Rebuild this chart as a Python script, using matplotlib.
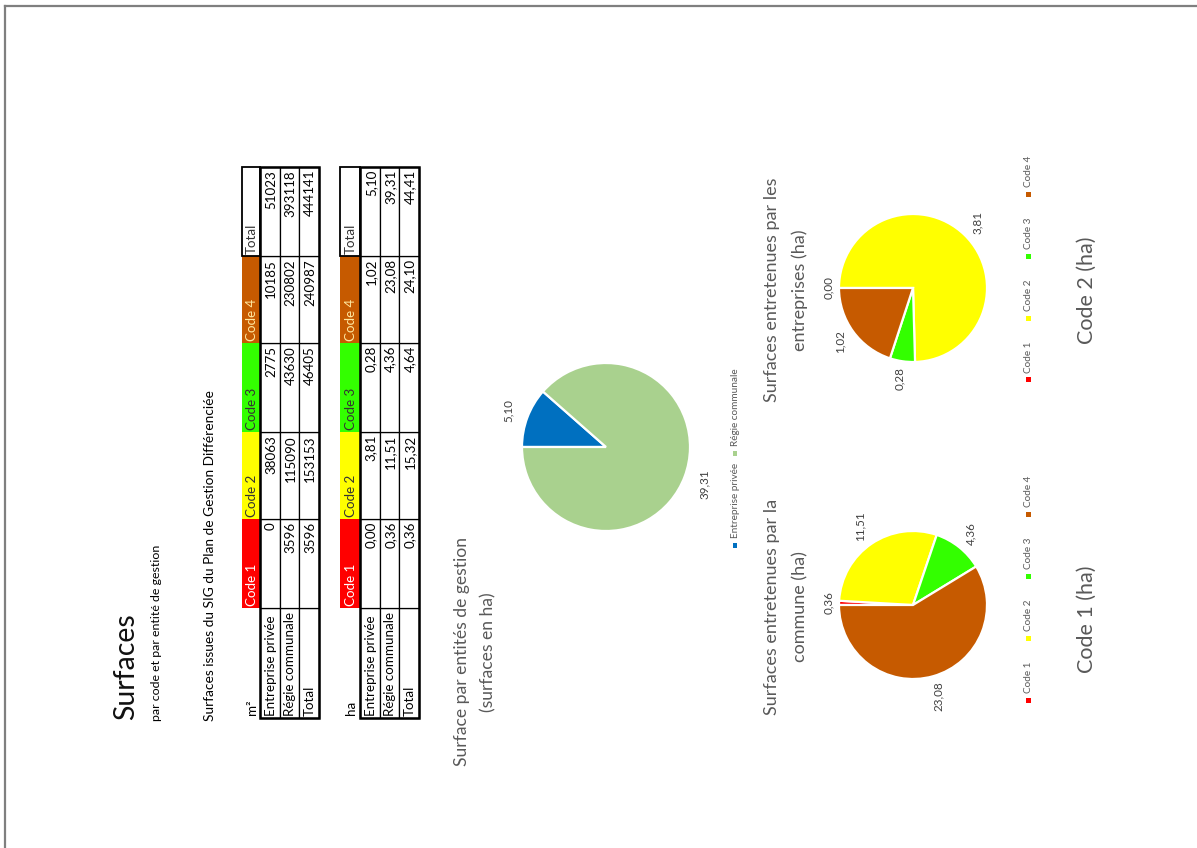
import numpy as np
import matplotlib
matplotlib.use("Agg")
import matplotlib.pyplot as plt
from matplotlib.patches import Rectangle
from matplotlib.lines import Line2D

plt.rcParams['font.family'] = ['Lato', 'DejaVu Sans']

# ---------------- data ----------------
row_labels = ["Entreprise privée", "Régie communale", "Total"]
col_labels = ["Code 1", "Code 2", "Code 3", "Code 4", "Total"]
m2_values = [[0, 38063, 2775, 10185, 51023],
             [3596, 115090, 43630, 230802, 393118],
             [3596, 153153, 46405, 240987, 444141]]
ha_values = [[0.00, 3.81, 0.28, 1.02, 5.10],
             [0.36, 11.51, 4.36, 23.08, 39.31],
             [0.36, 15.32, 4.64, 24.10, 44.41]]

entity_labels = ["Entreprise privée", "Régie communale"]
entity_values = [5.10, 39.31]
code_labels = ["Code 1", "Code 2", "Code 3", "Code 4"]
commune_values = [0.36, 11.51, 4.36, 23.08]
entreprise_values = [0.00, 3.81, 0.28, 1.02]

# ---------------- styles ----------------
code_colors = ["#FF0000", "#FFFF00", "#33FF00", "#C65A00"]
header_text_colors = ["#FFFFFF", "#333333", "#333333", "#FFE8A0", "#333333"]
entity_colors = ["#0070C0", "#A9D18E"]
TITLE_GRAY = "#595959"
LABEL_GRAY = "#404040"
TFS = 9.6  # table font size

W, H = 1197, 848
fig = plt.figure(figsize=(W / 100, H / 100), dpi=100)
fig.patch.set_facecolor("white")


def fx(x):
    return x / W


def fy(y):
    return 1 - y / H


def vtext(x, y, s, ha="left", size=9, color="black", **kw):
    fig.text(fx(x), fy(y), s, rotation=90, rotation_mode="anchor",
             ha=ha, va="center", fontsize=size, color=color, **kw)


# page border (top and left edges)
fig.add_artist(Line2D([fx(5), fx(W)], [fy(6), fy(6)], color="#7F7F7F", lw=1.6))
fig.add_artist(Line2D([fx(5), fx(5)], [fy(6), fy(H)], color="#7F7F7F", lw=1.6))

# ---------------- heading texts ----------------
vtext(126, 720, "Surfaces", size=20.5, color="#111111")
vtext(157, 721, "par code et par entité de gestion", size=8.9)
vtext(210, 721, "Surfaces issues du SIG du Plan de Gestion Différenciée", size=9.9)


# ---------------- tables ----------------
col_edges = [718, 608, 519, 432, 343, 256, 167]   # y pixel edges: label col, codes, total


def draw_table(x_edges, unit, values, fmt):
    # header row
    x0, x1 = x_edges[0], x_edges[1]
    vtext((x0 + x1) / 2 + 1, col_edges[0] - 3, unit, size=TFS)
    for j, lab in enumerate(col_labels):
        ytop, ybot = col_edges[j + 2], col_edges[j + 1]
        if j < 4:
            fig.add_artist(Rectangle((fx(x0), fy(ybot)), (x1 - x0) / W, (ybot - ytop) / H,
                                     facecolor=code_colors[j], edgecolor="none",
                                     transform=fig.transFigure))
        else:
            fig.add_artist(Rectangle((fx(x0), fy(ybot)), (x1 - x0) / W, (ybot - ytop) / H,
                                     facecolor="white", edgecolor="black", lw=1.3,
                                     transform=fig.transFigure))
        vtext((x0 + x1) / 2 + 1, ybot - 2, lab, size=TFS, color=header_text_colors[j])
    # body
    for i, rl in enumerate(row_labels):
        xa, xb = x_edges[i + 1], x_edges[i + 2]
        xc = (xa + xb) / 2 + 1
        for j in range(6):
            ytop, ybot = col_edges[j + 1], col_edges[j]
            fig.add_artist(Rectangle((fx(xa), fy(ybot)), (xb - xa) / W, (ybot - ytop) / H,
                                     facecolor="white", edgecolor="black", lw=0.9,
                                     transform=fig.transFigure))
        vtext(xc, col_edges[0] - 2, rl, size=TFS)
        for j, v in enumerate(values[i]):
            vtext(xc, col_edges[j + 2] + 3, fmt(v), ha="right", size=TFS)
    # outer border of body
    xa, xb = x_edges[1], x_edges[-1]
    fig.add_artist(Rectangle((fx(xa), fy(col_edges[0])), (xb - xa) / W,
                             (col_edges[0] - col_edges[-1]) / H,
                             facecolor="none", edgecolor="black", lw=1.8,
                             transform=fig.transFigure))


draw_table([242, 260, 280, 299, 319], "m²", m2_values, lambda v: f"{v:d}")
draw_table([340, 360, 380, 399, 419], "ha", ha_values, lambda v: f"{v:.2f}".replace(".", ","))


# ---------------- pies ----------------
def draw_pie(cx, cy, r, values, colors, fsize=8.4, extra=4.0):
    ax = fig.add_axes([fx(cx - r), fy(cy + r), 2 * r / W, 2 * r / H])
    wedges, _ = ax.pie(values, colors=colors, startangle=180, counterclock=False,
                       radius=1, wedgeprops=dict(edgecolor="white", linewidth=1.6))
    ax.set_xlim(-1, 1)
    ax.set_ylim(-1, 1)
    ax.set_aspect("equal")
    ax.axis("off")
    for w, v in zip(wedges, values):
        mid = np.deg2rad((w.theta1 + w.theta2) / 2)
        s = f"{v:.2f}".replace(".", ",")
        dx, dy = np.cos(mid), np.sin(mid)
        hx = 6.5 / r
        hy = len(s) * 3.2 / r
        d = 1 + extra / r + abs(dx) * hx + abs(dy) * hy
        ax.text(dx * d, dy * d, s, rotation=90, ha="center", va="center",
                rotation_mode="anchor", fontsize=fsize, color=LABEL_GRAY, clip_on=False)
    return ax


draw_pie(606, 447, 84, entity_values, entity_colors, extra=10.0)
draw_pie(913, 605, 74, commune_values, code_colors)
draw_pie(913, 288, 74, entreprise_values, code_colors)


# ---------------- chart titles ----------------
def vtitle(xs, yc, lines, size):
    for x, line in zip(xs, lines):
        vtext(x, yc, line, ha="center", size=size, color=TITLE_GRAY)


vtitle([462, 488], 652, ["Surface par entités de gestion", "(surfaces en ha)"], 12.6)
vtitle([772, 800], 607, ["Surfaces entretenues par la", "commune (ha)"], 13)
vtitle([772, 800], 290, ["Surfaces entretenues par les", "entreprises (ha)"], 13)
vtext(1087, 619, "Code 1 (ha)", ha="center", size=15.5, color=TITLE_GRAY)
vtext(1087, 290, "Code 2 (ha)", ha="center", size=15.5, color=TITLE_GRAY)


# ---------------- legends ----------------
def draw_legend(x, y0, step, labels, colors, size=7.2):
    for k, (lab, col) in enumerate(zip(labels, colors)):
        ym = y0 - k * step
        fig.add_artist(Rectangle((fx(x - 2.5), fy(ym + 2.5)), 5 / W, 5 / H,
                                 facecolor=col, edgecolor="none",
                                 transform=fig.transFigure))
        vtext(x + 0.5, ym - 7, lab, size=size, color=TITLE_GRAY)


draw_legend(735, 545, 92, entity_labels, entity_colors)
draw_legend(1028, 700, 62, code_labels, code_colors)
draw_legend(1028, 380, 62, code_labels, code_colors)

fig.savefig("out.png", dpi=100, facecolor="white")
